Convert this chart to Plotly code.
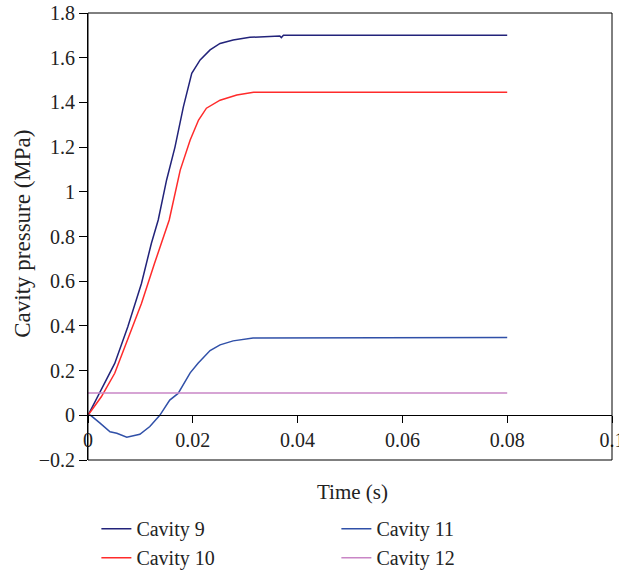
import plotly.graph_objects as go

# Time (s) and pressure (MPa)
t9 = [0, 0.00254, 0.0051, 0.0076, 0.0102, 0.0121, 0.0134, 0.015, 0.0166, 0.0182,
      0.0198, 0.0214, 0.0233, 0.0252, 0.0277, 0.0309, 0.036, 0.0366, 0.0369, 0.0373, 0.08]
v9 = [0, 0.113, 0.232, 0.396, 0.59, 0.77, 0.874, 1.053, 1.20, 1.38,
      1.53, 1.59, 1.635, 1.664, 1.679, 1.691, 1.697, 1.697, 1.690, 1.70, 1.70]

t10 = [0, 0.00254, 0.0051, 0.0076, 0.0102, 0.0127, 0.0155, 0.0176, 0.0195, 0.0211,
       0.0226, 0.0252, 0.0284, 0.0316, 0.08]
v10 = [0, 0.083, 0.188, 0.337, 0.50, 0.68, 0.874, 1.097, 1.232, 1.321,
       1.374, 1.41, 1.433, 1.445, 1.445]

t11 = [0, 0.0005, 0.0023, 0.0042, 0.0055, 0.0074, 0.0099, 0.0118, 0.0137, 0.0156,
       0.0172, 0.0195, 0.021, 0.0233, 0.0252, 0.0277, 0.0315, 0.08]
v11 = [0, 0, -0.035, -0.074, -0.08, -0.098, -0.085, -0.05, 0, 0.068,
       0.098, 0.19, 0.233, 0.29, 0.315, 0.333, 0.346, 0.348]

t12 = [0, 0.08]
v12 = [0.1, 0.1]

names = ["Cavity 9", "Cavity 10", "Cavity 11", "Cavity 12"]
colors = ["#22237a", "#ff2b2b", "#3050a8", "#c986c6"]
legends = ["legend", "legend", "legend2", "legend2"]

x_ticks = [0, 0.02, 0.04, 0.06, 0.08, 0.1]
y_ticks = [-0.2, 0, 0.2, 0.4, 0.6, 0.8, 1, 1.2, 1.4, 1.6, 1.8]

FONT = "Liberation Serif"
fig = go.Figure()
for t, v, n, c, lg in zip([t9, t10, t11, t12], [v9, v10, v11, v12], names, colors, legends):
    fig.add_trace(go.Scatter(x=t, y=v, mode="lines", name=n, legend=lg,
                             line=dict(color=c, width=1.5)))

leg_common = dict(orientation="v", yanchor="top", xanchor="left",
                  font=dict(family=FONT, size=20, color="#222"),
                  bgcolor="rgba(0,0,0,0)", traceorder="normal")

fig.update_layout(
    width=619, height=573,
    margin=dict(l=88, r=7, t=13, b=113, autoexpand=False),
    plot_bgcolor="white", paper_bgcolor="white",
    font=dict(family=FONT, size=20, color="#222"),
    showlegend=True,
    legend=dict(x=0.016, y=-0.11, **leg_common),
    legend2=dict(x=0.474, y=-0.11, **leg_common),
    xaxis=dict(range=[0, 0.1], tickvals=x_ticks, showgrid=False, zeroline=False,
               showline=True, linecolor="black", linewidth=1,
               ticks="outside", ticklen=7, tickcolor="black",
               anchor="free", position=0.1, ticklabeloverflow="allow",
               tickfont=dict(size=20)),
    yaxis=dict(range=[-0.2, 1.8], tickvals=y_ticks, showgrid=False, zeroline=False,
               showline=True, linecolor="black", linewidth=1,
               ticks="outside", ticklen=8, tickcolor="black",
               ticklabeloverflow="allow", tickfont=dict(size=20)),
    shapes=[dict(type="rect", xref="paper", yref="paper", x0=0, x1=1, y0=0, y1=1,
                 line=dict(color="black", width=1), layer="above")],
    annotations=[
        dict(text="Time (s)", xref="paper", yref="paper", x=0.505, y=-0.0716,
             xanchor="center", yanchor="middle", showarrow=False,
             font=dict(size=21)),
        dict(text="Cavity pressure (MPa)", xref="paper", yref="paper", x=-0.125, y=0.505,
             xanchor="center", yanchor="middle", textangle=-90, showarrow=False,
             font=dict(size=23)),
    ],
)

fig.write_html("out.html",
               config={"displayModeBar": False},
               post_script="document.body.style.margin='0';document.body.style.overflow='hidden';")
